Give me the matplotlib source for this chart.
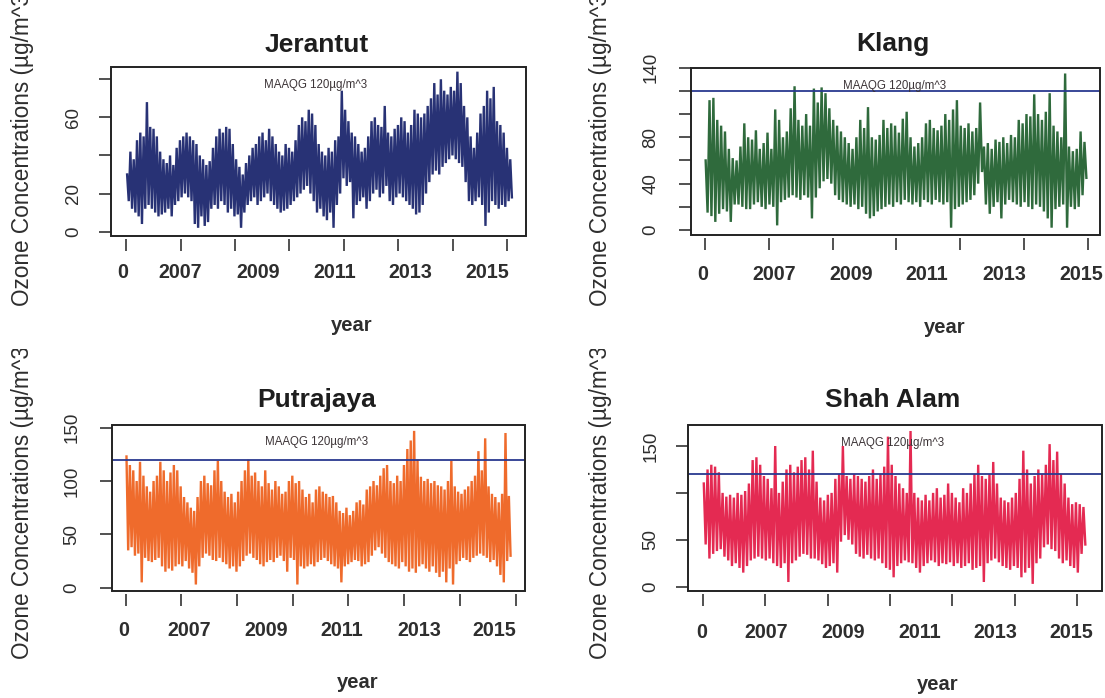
import numpy as np
import matplotlib.pyplot as plt
from matplotlib.patches import Rectangle
from matplotlib.transforms import Bbox

plt.rcParams["font.family"] = ["Liberation Sans", "DejaVu Sans"]

W, H = 1105, 698
TEXT = "#2e2e2e"

# daily ozone records, summarised as the monthly peak and trough of each station
record_days = {"Jerantut": 3552, "Klang": 2994, "Putrajaya": 3463, "Shah Alam": 3072}

jerantut_peak = [
    30, 42, 38, 48, 52, 50, 68, 55, 54, 50, 42, 38, 36, 40, 35, 44, 48, 50, 52, 50,
    48, 46, 40, 38, 35, 37, 44, 50, 54, 52, 55, 54, 46, 38, 34, 30, 36, 40, 44, 46,
    50, 52, 48, 54, 50, 46, 42, 40, 46, 44, 42, 48, 56, 60, 58, 64, 62, 56, 46, 42,
    40, 44, 42, 48, 50, 74, 64, 58, 52, 50, 46, 42, 44, 50, 58, 60, 56, 55, 66, 52,
    50, 54, 56, 60, 58, 52, 56, 64, 62, 60, 62, 66, 70, 78, 72, 80, 74, 72, 76, 74,
    84, 78, 66, 60, 50, 44, 52, 62, 66, 74, 70, 76, 58, 56, 52, 44, 38,
]
jerantut_trough = [
    16, 12, 10, 8, 4, 12, 14, 12, 10, 8, 9, 10, 12, 8, 14, 16, 18, 20, 18, 16,
    4, 2, 8, 3, 5, 12, 14, 12, 16, 14, 10, 12, 8, 9, 2, 10, 14, 16, 18, 14,
    16, 18, 20, 16, 14, 12, 10, 11, 12, 14, 16, 18, 20, 22, 24, 20, 16, 10, 12, 8,
    6, 10, 2, 14, 20, 28, 24, 26, 7, 14, 16, 18, 12, 16, 20, 22, 18, 20, 24, 16,
    14, 18, 20, 18, 16, 14, 12, 9, 10, 14, 20, 26, 30, 32, 30, 34, 36, 38, 40, 38,
    36, 34, 26, 16, 14, 16, 18, 14, 3, 10, 16, 14, 12, 14, 13, 16, 18,
]

klang_peak = [
    60, 112, 114, 95, 90, 85, 70, 62, 60, 72, 92, 80, 78, 86, 70, 75, 84, 70, 104, 95,
    80, 85, 105, 124, 95, 90, 100, 90, 122, 110, 123, 118, 105, 95, 90, 85, 80, 75, 70, 80,
    95, 88, 106, 80, 78, 82, 95, 88, 92, 90, 84, 96, 102, 80, 72, 75, 80, 92, 95, 88,
    86, 90, 100, 95, 104, 112, 90, 88, 92, 85, 88, 110, 72, 75, 70, 78, 76, 80, 75, 82,
    80, 95, 92, 100, 98, 117, 100, 95, 102, 118, 90, 85, 80, 135, 72, 68, 70, 85, 76,
]
klang_trough = [
    15, 12, 7, 14, 18, 16, 7, 22, 22, 20, 18, 18, 22, 24, 20, 18, 22, 20, 4, 24,
    26, 28, 30, 28, 26, 30, 28, 10, 28, 36, 42, 44, 40, 30, 26, 24, 22, 20, 22, 18,
    20, 14, 10, 12, 16, 18, 20, 22, 20, 24, 22, 26, 24, 22, 24, 20, 26, 24, 22, 26,
    24, 22, 24, 2, 18, 20, 22, 24, 26, 30, 40, 50, 22, 14, 20, 24, 10, 22, 26, 24,
    22, 20, 24, 20, 18, 22, 20, 16, 10, 2, 18, 20, 22, 2, 20, 18, 20, 30, 45,
]

putrajaya_peak = [
    123, 115, 110, 100, 118, 105, 95, 90, 100, 105, 118, 110, 100, 108, 115, 110, 95, 85, 80, 75,
    72, 85, 100, 105, 98, 96, 110, 119, 100, 90, 85, 88, 80, 90, 100, 110, 120, 105, 108, 100,
    95, 110, 98, 92, 100, 95, 88, 90, 100, 105, 98, 100, 92, 85, 88, 80, 92, 95, 90, 88,
    85, 86, 80, 72, 70, 75, 68, 72, 80, 82, 78, 92, 95, 100, 96, 105, 112, 115, 100, 98,
    105, 100, 115, 130, 138, 147, 120, 104, 100, 102, 98, 100, 96, 95, 92, 100, 119, 95, 90, 88,
    92, 95, 100, 105, 128, 110, 140, 95, 88, 85, 80, 88, 145, 86,
]
putrajaya_trough = [
    35, 38, 30, 32, 5, 28, 25, 24, 26, 28, 20, 15, 18, 16, 20, 22, 20, 25, 18, 14,
    3, 20, 28, 32, 30, 26, 25, 28, 24, 22, 18, 20, 15, 20, 25, 30, 32, 28, 26, 22,
    20, 24, 26, 24, 28, 30, 25, 15, 28, 26, 3, 20, 18, 20, 22, 20, 24, 26, 28, 25,
    22, 20, 18, 5, 20, 22, 24, 26, 25, 20, 22, 24, 30, 35, 38, 32, 28, 24, 22, 20,
    18, 24, 20, 15, 18, 14, 20, 22, 18, 15, 20, 14, 10, 15, 5, 18, 3, 22, 25, 28,
    26, 24, 28, 30, 32, 30, 28, 24, 26, 20, 12, 5, 25, 30,
]

shah_alam_peak = [
    110, 125, 130, 128, 122, 100, 96, 98, 95, 100, 98, 102, 110, 135, 138, 130, 118, 115, 105, 150,
    100, 112, 125, 130, 122, 128, 135, 138, 125, 145, 112, 95, 92, 98, 100, 115, 120, 150, 118, 115,
    120, 118, 115, 112, 118, 125, 115, 120, 128, 160, 130, 118, 110, 105, 100, 166, 100, 95, 92, 98,
    92, 100, 105, 95, 98, 110, 100, 95, 90, 105, 100, 110, 120, 130, 118, 115, 120, 133, 110, 95,
    92, 90, 95, 100, 115, 145, 125, 110, 118, 125, 120, 130, 152, 135, 144, 120, 110, 95, 88, 90,
    88, 85,
]
shah_alam_trough = [
    45, 30, 35, 38, 40, 32, 28, 22, 25, 20, 15, 22, 28, 30, 32, 30, 28, 30, 25, 22,
    20, 25, 5, 25, 28, 32, 35, 34, 30, 30, 28, 24, 20, 22, 25, 15, 48, 55, 50, 45,
    35, 32, 30, 34, 30, 28, 30, 25, 20, 18, 10, 22, 25, 28, 26, 25, 20, 15, 22, 25,
    28, 26, 22, 25, 24, 26, 22, 25, 20, 22, 25, 18, 20, 22, 5, 25, 28, 30, 26, 22,
    20, 18, 22, 20, 10, 15, 20, 3, 25, 30, 42, 45, 40, 38, 30, 25, 28, 22, 20, 15,
    35, 45,
]

series = {
    "Jerantut": (jerantut_peak, jerantut_trough),
    "Klang": (klang_peak, klang_trough),
    "Putrajaya": (putrajaya_peak, putrajaya_trough),
    "Shah Alam": (shah_alam_peak, shah_alam_trough),
}
colors = {"Jerantut": "#283275", "Klang": "#2f6a3c", "Putrajaya": "#ef6b2c", "Shah Alam": "#e42a52"}

maaqg_limit = 120
year_labels = ["0", "2007", "2009", "2011", "2013", "2015"]
y_ticks = {
    "Jerantut": ([0, 20, 40, 60, 80], ["0", "20", "", "60", ""]),
    "Klang": ([0, 20, 40, 60, 80, 100, 120, 140], ["0", "", "40", "", "80", "", "", "140"]),
    "Putrajaya": ([0, 50, 100, 150], ["0", "50", "100", "150"]),
    "Shah Alam": ([0, 50, 100, 150], ["0", "50", "", "150"]),
}

# panel geometry in pixels (left, top, right, bottom of the box)
layout = {
    "Jerantut": dict(box=(110.5, 66.7, 526, 236), xlim=(-145, 3674), ylim=(-2.3, 86.6),
                     xmax=3500, year_x=[122.8, 180.6, 257.8, 335, 410.4, 487.5], year_y=273,
                     title=(317, 45), xlab=(352, 325), note=(316, 85), ylab=(23, 146),
                     ytick_x=73.7, region=(0, 0, 552, 349)),
    "Klang": dict(box=(690.5, 67.7, 1100.4, 235), xlim=(-111, 3096), ylim=(-4.3, 140.0),
                  xmax=3000, year_x=[702.2, 773.7, 850.9, 926.3, 1004.2, 1081], year_y=275,
                  title=(893, 43.5), xlab=(945, 328), note=(895, 86), ylab=(600, 146),
                  ytick_x=651, region=(552, 0, 1105, 349)),
    "Putrajaya": dict(box=(111.5, 425, 525, 590.7), xlim=(-127, 3585), ylim=(-2.8, 152.5),
                      xmax=3500, year_x=[123.5, 189.4, 266.6, 342, 419.1, 494.6], year_y=630,
                      title=(317, 400), xlab=(358, 683), note=(317, 442), ylab=(23, 499),
                      ytick_x=72, region=(0, 349, 552, 698)),
    "Shah Alam": dict(box=(688, 425, 1102, 591), xlim=(-119, 3198), ylim=(-4.6, 172.4),
                      xmax=3000, year_x=[701.2, 766.6, 843.1, 919.9, 995.3, 1071], year_y=632,
                      title=(893, 400), xlab=(938, 685), note=(893, 443), ylab=(600, 499),
                      ytick_x=651, region=(552, 349, 1105, 698)),
}


def fx(px):
    return px / W


def fy(py):
    return 1 - py / H


fig = plt.figure(figsize=(W / 100, H / 100), dpi=100)
fig.patch.set_facecolor("white")

for name, spec in layout.items():
    left, top, right, bottom = spec["box"]
    ax = fig.add_axes([fx(left), fy(bottom), (right - left) / W, (bottom - top) / H])

    # zigzag through the monthly peak and trough to give the dense daily look
    peak, trough = series[name]
    n = len(peak)
    step = record_days[name] / n
    t = np.arange(n) * step
    x = np.column_stack([t + 0.25 * step, t + 0.75 * step]).ravel()
    y = np.column_stack([peak, trough]).ravel()
    ax.plot(x, y, color=colors[name], lw=1.7, solid_joinstyle="bevel")
    ax.axhline(maaqg_limit, color="#2a3990", lw=1.3)

    ax.set_xlim(*spec["xlim"])
    ax.set_ylim(*spec["ylim"])

    for s in ax.spines.values():
        s.set_visible(False)
    ax.spines["bottom"].set_position(("outward", 2.5))
    ax.add_patch(Rectangle((0, 0), 1, 1, transform=ax.transAxes, fill=False,
                           ec="#222222", lw=1.4, clip_on=False, zorder=5))

    ax.set_xticks(np.arange(0, spec["xmax"] + 1, 500))
    ax.set_xticklabels([])
    ticks, labels = y_ticks[name]
    ax.set_yticks(ticks)
    ax.set_yticklabels([])
    ax.tick_params(axis="both", length=8.5, width=1.1, color="#222222")

    # rotated y tick labels, R style
    for v, lab in zip(ticks, labels):
        if lab:
            ypx = bottom - (v - spec["ylim"][0]) / (spec["ylim"][1] - spec["ylim"][0]) * (bottom - top)
            fig.text(fx(spec["ytick_x"]), fy(ypx), lab, rotation=90, ha="center", va="center",
                     fontsize=13.5, color=TEXT)

    for xp, lab in zip(spec["year_x"], year_labels):
        fig.text(fx(xp), fy(spec["year_y"]), lab, ha="center", va="center",
                 fontsize=14.2, fontweight="bold", color=TEXT)

    fig.text(fx(spec["title"][0]), fy(spec["title"][1]), name, ha="center", va="center",
             fontsize=19, fontweight="bold", color="#1e1e1e")
    fig.text(fx(spec["xlab"][0]), fy(spec["xlab"][1]), "year", ha="center", va="center",
             fontsize=14.5, fontweight="bold", color=TEXT)
    fig.text(fx(spec["note"][0]), fy(spec["note"][1]), "MAAQG 120µg/m^3", ha="center",
             va="center", fontsize=8.3, color="#3d3538", zorder=6)

    # axis title is clipped to its own quarter of the figure
    rx0, ry0, rx1, ry1 = spec["region"]
    ylab = fig.text(fx(spec["ylab"][0]), fy(spec["ylab"][1]), "Ozone Concentrations (µg/m^3)",
                    rotation=90, ha="center", va="center", fontsize=16.3, color=TEXT)
    ylab.set_clip_box(Bbox([[rx0, H - ry1], [rx1, H - ry0]]))
    ylab.set_clip_on(True)

fig.savefig("out.png", dpi=100)
